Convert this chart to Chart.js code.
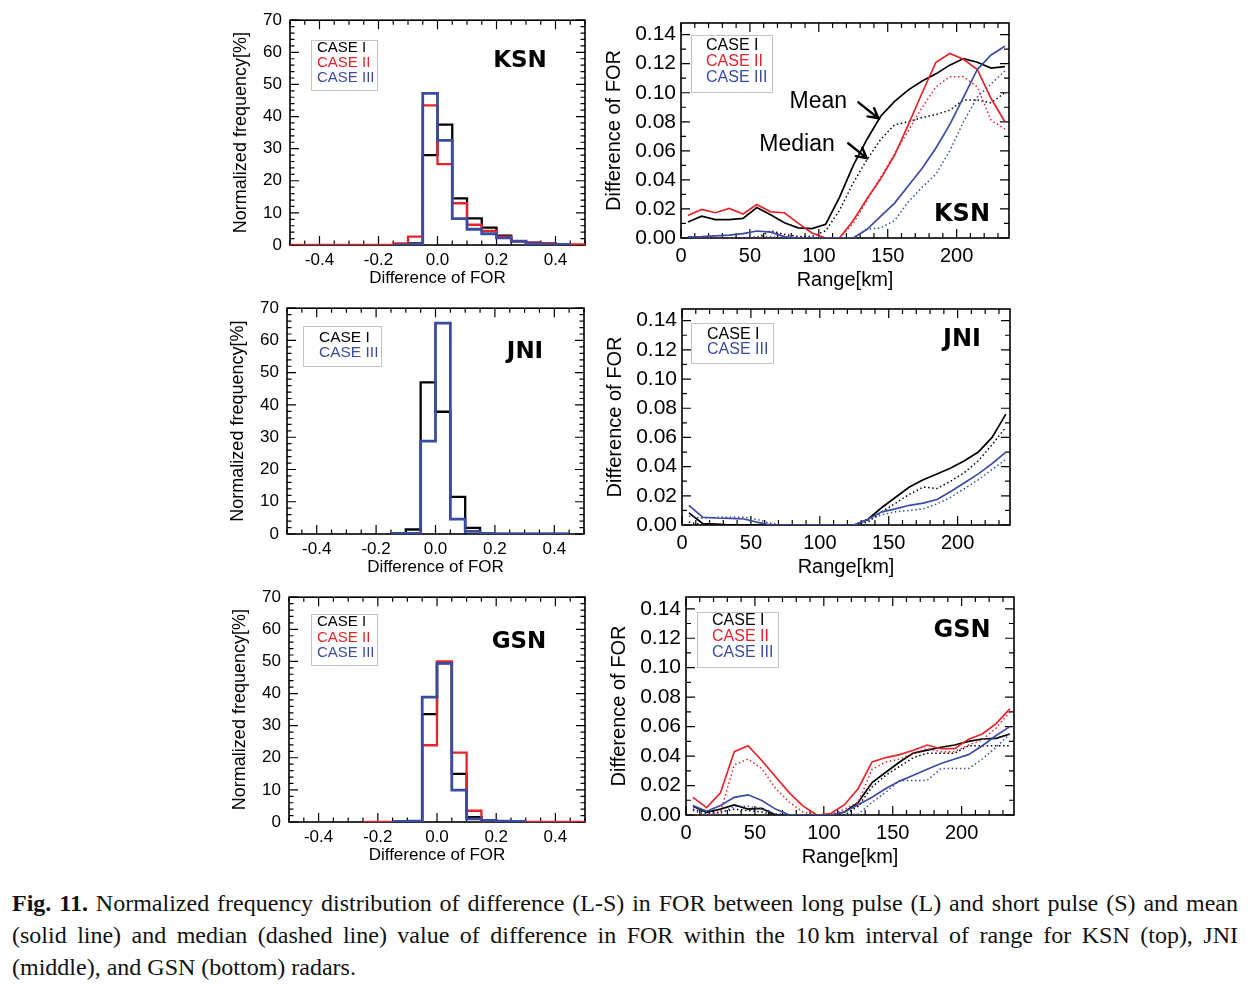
<!DOCTYPE html>
<html>
<head>
<meta charset="utf-8">
<script src="https://cdn.jsdelivr.net/npm/chart.js@4.4.1/dist/chart.umd.min.js"></script>
<style>
html,body{margin:0;padding:0;background:#fff;}
body{width:1258px;height:984px;position:relative;overflow:hidden;}
canvas{position:absolute;}
.cap{position:absolute;left:12px;width:1226px;font-family:"Liberation Serif","Times New Roman",serif;font-size:24px;line-height:32px;color:#111;}
.j{text-align:justify;text-align-last:justify;}
</style>
</head>
<body>
<canvas id="h1"></canvas>
<canvas id="l1"></canvas>
<canvas id="h2"></canvas>
<canvas id="l2"></canvas>
<canvas id="h3"></canvas>
<canvas id="l3"></canvas>
<div class="cap j" style="top:887px"><b>Fig. 11.</b> Normalized frequency distribution of difference (L-S) in FOR between long pulse (L) and short pulse (S) and mean</div>
<div class="cap j" style="top:919px">(solid line) and median (dashed line) value of difference in FOR within the 10&#8239;km interval of range for KSN (top), JNI</div>
<div class="cap" style="top:951px">(middle), and GSN (bottom) radars.</div>
<script>
// ---------------- DATA ----------------
// histogram bins (left edges), width 0.05
const histBinLeft = [-0.50,-0.45,-0.40,-0.35,-0.30,-0.25,-0.20,-0.15,-0.10,-0.05,0.00,0.05,0.10,0.15,0.20,0.25,0.30,0.35,0.40,0.45];
const HIST_BIN_WIDTH = 0.05;

const ksnHistCaseI   = [null,null,null,null,null,null,null,0,0.5,28,37.5,14.5,8.3,5.4,2.9,1.1,0.7,0.5,0.3,null];
const ksnHistCaseII  = [0,0,0,0,0,0,0,0.5,2.6,43.5,25.2,13,6.3,4.4,2.6,1.1,0.7,0.6,0.3,0.2];
const ksnHistCaseIII = [null,null,null,null,null,null,null,0,0.2,47.2,32.6,8.2,4.9,3.5,2.2,1.2,0.4,0.3,0.2,null];

const jniHistCaseI   = [null,null,null,null,null,null,null,0.2,1.4,47,37.9,11.5,1.9,0.3,0,0,0,0,0,null];
const jniHistCaseIII = [null,null,null,null,null,null,null,0,0.2,28.8,65.4,4.6,0.8,0.2,0,0,0,0,0,null];

const gsnHistCaseI   = [null,null,null,null,null,null,null,0,0.3,33.6,49.5,15,1.5,0.5,0.2,0,null,null,null,null];
const gsnHistCaseII  = [null,null,null,null,null,0,0,0,0.3,23.9,50,21.6,3.5,0.5,0.2,0,0,0,0,0];
const gsnHistCaseIII = [null,null,null,null,null,null,null,0.2,0.3,38.9,49.4,9.9,1,0.5,0.3,0.2,null,null,null,null];

// range bins (km)
const rangeKm = [5,15,25,35,45,55,65,75,85,95,105,115,125,135,145,155,165,175,185,195,205,215,225,235];

const ksnMeanCaseI     = [0.011,0.015,0.0127,0.0127,0.0135,0.021,0.016,0.0105,0.007,0.0065,0.0095,0.028,0.050,0.068,0.084,0.094,0.102,0.108,0.113,0.119,0.1235,0.121,0.117,0.118];
const ksnMedianCaseI   = [0,0,0,0,0,0,0.005,0.0025,0.001,0.001,0.005,0.019,0.038,0.054,0.068,0.078,0.080,0.083,0.085,0.088,0.095,0.095,0.093,0.100];
const ksnMeanCaseII    = [0.0155,0.0197,0.0174,0.0204,0.0165,0.023,0.018,0.0174,0.0102,0.0034,0,0,0.012,0.027,0.041,0.057,0.078,0.100,0.121,0.127,0.123,0.116,0.096,0.080];
const ksnMedianCaseII  = [0,0,0,0,0,0,0,0,0,0,0,0,0.010,0.026,0.042,0.058,0.074,0.090,0.104,0.111,0.111,0.104,0.081,0.075];
const ksnMeanCaseIII   = [0.0008,0.001,0.0015,0.002,0.003,0.0048,0.004,0.001,0,0,0,0,0,0.006,0.015,0.024,0.036,0.048,0.062,0.078,0.097,0.116,0.126,0.132];
const ksnMedianCaseIII = [0,0,0,0,0,0.001,0.001,0,0,0,0,0,0,0.006,0.007,0.012,0.025,0.035,0.044,0.060,0.080,0.097,0.106,0.115];

const jniMeanCaseI     = [0.0083,0.001,0.0007,0,0,0,0,0,0,0,0,0,0,0.004,0.012,0.019,0.026,0.031,0.035,0.039,0.044,0.050,0.060,0.076];
const jniMedianCaseI   = [0.002,0,0,0,0,0,0,0,0,0,0,0,0,0.002,0.009,0.015,0.021,0.026,0.025,0.030,0.036,0.044,0.055,0.067];
const jniMeanCaseIII   = [0.0134,0.0053,0.0048,0.0046,0.0041,0.0018,0,0,0,0,0,0,0,0.004,0.009,0.011,0.0135,0.015,0.0175,0.023,0.029,0.035,0.042,0.050];
const jniMedianCaseIII = [0.006,0.0046,0.0053,0.0053,0.0053,0.0037,0.001,0,0,0,0,0,0,0.003,0.007,0.009,0.010,0.011,0.0145,0.019,0.025,0.031,0.038,0.045];

const gsnMeanCaseI     = [0.006,0.0018,0.004,0.0068,0.004,0.0045,0,0,0,0,0,0.002,0.0086,0.022,0.029,0.036,0.042,0.044,0.046,0.0475,0.050,0.0516,0.052,0.055];
const gsnMedianCaseI   = [0.004,0.001,0.002,0.004,0.003,0.002,0,0,0,0,0,0,0.006,0.019,0.027,0.033,0.039,0.042,0.042,0.042,0.047,0.047,0.047,0.047];
const gsnMeanCaseII    = [0.012,0.005,0.015,0.043,0.047,0.037,0.026,0.015,0.006,0,0.001,0.007,0.018,0.036,0.039,0.041,0.044,0.0475,0.045,0.045,0.0515,0.055,0.062,0.072];
const gsnMedianCaseII  = [0,0,0.002,0.034,0.038,0.0315,0.018,0.0087,0.002,0,0,0.004,0.0086,0.031,0.036,0.038,0.042,0.045,0.043,0.043,0.0475,0.051,0.059,0.070];
const gsnMeanCaseIII   = [0.0064,0.0025,0.0064,0.012,0.0137,0.0098,0.004,0,0,0,0,0.002,0.007,0.012,0.018,0.023,0.027,0.031,0.035,0.038,0.041,0.047,0.054,0.060];
const gsnMedianCaseIII = [0.003,0,0.001,0.006,0.006,0.004,0.001,0,0,0,0,0,0.0007,0.0086,0.0155,0.0235,0.0235,0.0235,0.0315,0.0315,0.0315,0.038,0.046,0.055];

// tick labels
const histXTicks = [-0.4,-0.2,0.0,0.2,0.4];
const histYTicks = [0,10,20,30,40,50,60,70];
const rangeTicks = [0,50,100,150,200];
const forTicks   = [0.00,0.02,0.04,0.06,0.08,0.10,0.12,0.14];

const caseNames = { I: 'CASE I', II: 'CASE II', III: 'CASE III' };

// ---------------- STYLE ----------------
const FONT = '"Liberation Sans", Arial, Helvetica, sans-serif';
const COL = { I: '#000000', II: '#e3242b', III: '#3b4ca0' };

function steps(a, b, s) { const o = []; for (let k = 0; a + k * s <= b + 1e-9; k++) o.push(+(a + k * s).toFixed(5)); return o; }

function histOutline(vals) {
  const pts = [];
  vals.forEach((v, i) => {
    const l = histBinLeft[i];
    if (v === null) { pts.push({ x: l + HIST_BIN_WIDTH / 2, y: null }); return; }
    pts.push({ x: l, y: v }, { x: +(l + HIST_BIN_WIDTH).toFixed(3), y: v });
  });
  return pts;
}
function series(vals) { return vals.map((v, i) => ({ x: rangeKm[i], y: v })); }

function framePlugin(t) {
  return {
    id: 'frame',
    beforeDatasetsDraw(chart) {
      const { ctx, chartArea: a, scales: { x, y } } = chart;
      ctx.save();
      ctx.strokeStyle = '#000';
      ctx.lineWidth = 1.2;
      ctx.beginPath();
      const xt = (vals, len) => vals.forEach(v => { const p = x.getPixelForValue(v); ctx.moveTo(p, a.bottom); ctx.lineTo(p, a.bottom - len); ctx.moveTo(p, a.top); ctx.lineTo(p, a.top + len); });
      const yl = (vals, len) => vals.forEach(v => { const p = y.getPixelForValue(v); ctx.moveTo(a.left, p); ctx.lineTo(a.left + len, p); });
      const yr = (vals, len) => vals.forEach(v => { const p = y.getPixelForValue(v); ctx.moveTo(a.right, p); ctx.lineTo(a.right - len, p); });
      xt(t.xMinor, t.minorLen); xt(t.xMajor, t.majorLen);
      yl(t.yMinorL, t.minorLen); yl(t.yMajor, t.majorLen);
      yr(t.yMinorR, t.minorLen); yr(t.yMajor, t.majorLen);
      ctx.stroke();
      ctx.lineWidth = 1.6;
      ctx.strokeRect(a.left, a.top, a.right - a.left, a.bottom - a.top);
      ctx.restore();
    }
  };
}

function notesPlugin(n) {
  return {
    id: 'notes',
    afterDatasetsDraw(chart) {
      const { ctx, chartArea: a, scales: { x, y } } = chart;
      ctx.save();
      const L = n.legend;
      ctx.strokeStyle = '#c4c4c4'; ctx.lineWidth = 1;
      ctx.strokeRect(Math.round(a.left + L.x0) + 0.5, Math.round(a.top + L.y0) + 0.5, L.w, L.h);
      ctx.font = L.size + 'px ' + FONT; ctx.textBaseline = 'middle'; ctx.textAlign = 'left';
      L.items.forEach((k, i) => { ctx.fillStyle = COL[k]; ctx.fillText(caseNames[k], a.left + L.tx, a.top + L.ty[i]); });
      ctx.fillStyle = '#000';
      ctx.font = 'bold ' + n.station.size + 'px "DejaVu Sans", sans-serif';
      ctx.textAlign = 'center';
      ctx.fillText(n.station.text, a.left + n.station.cx, a.top + n.station.cy);
      (n.texts || []).forEach(t => {
        ctx.font = t.size + 'px ' + FONT; ctx.textAlign = 'center'; ctx.fillStyle = '#000';
        ctx.fillText(t.text, x.getPixelForValue(t.x), y.getPixelForValue(t.y));
      });
      (n.arrows || []).forEach(ar => {
        const x0 = x.getPixelForValue(ar.from[0]), y0 = y.getPixelForValue(ar.from[1]);
        const x1 = x.getPixelForValue(ar.to[0]), y1 = y.getPixelForValue(ar.to[1]);
        const ang = Math.atan2(y1 - y0, x1 - x0), hl = 11;
        ctx.strokeStyle = '#000'; ctx.lineWidth = 2.4; ctx.lineCap = 'round';
        ctx.beginPath(); ctx.moveTo(x0, y0); ctx.lineTo(x1, y1);
        ctx.moveTo(x1 - hl * Math.cos(ang - 0.5), y1 - hl * Math.sin(ang - 0.5)); ctx.lineTo(x1, y1);
        ctx.lineTo(x1 - hl * Math.cos(ang + 0.5), y1 - hl * Math.sin(ang + 0.5));
        ctx.stroke();
      });
      ctx.restore();
    }
  };
}

function place(canvas, left, top, w, h) {
  canvas.width = w; canvas.height = h;
  canvas.style.left = left + 'px'; canvas.style.top = top + 'px';
  canvas.style.width = w + 'px'; canvas.style.height = h + 'px';
}

function makeHist(id, plot, sets, notes) {
  const [pl, pt, pr, pb] = plot;
  const cl = pl - 66, ct = pt - 15, cw = pr + 12 - cl, ch = pb + 46 - ct;
  const cv = document.getElementById(id);
  place(cv, cl, ct, cw, ch);
  const datasets = sets.map(s => ({
    data: histOutline(s.vals), borderColor: COL[s.k], borderWidth: s.k === 'III' ? 2.8 : 2.3,
    pointRadius: 0, tension: 0, fill: false, order: s.order, spanGaps: false
  }));
  new Chart(cv, {
    type: 'line',
    data: { datasets },
    options: {
      responsive: false, animation: false, events: [], devicePixelRatio: 1,
      layout: { padding: { left: 0, top: 15, right: 12, bottom: 0 } },
      plugins: { legend: { display: false }, tooltip: { enabled: false } },
      scales: {
        x: {
          type: 'linear', min: -0.5, max: 0.5,
          afterBuildTicks: s => { s.ticks = histXTicks.map(v => ({ value: v })); },
          afterFit: s => { s.height = 46; },
          grid: { display: false, drawTicks: false }, border: { display: false },
          ticks: { color: '#000', padding: 4.8, maxRotation: 0, autoSkip: false, font: { family: FONT, size: 17 }, callback: v => v.toFixed(1) },
          title: { display: true, text: 'Difference of FOR', color: '#000', font: { family: FONT, size: 17 }, padding: { top: 0, bottom: 2.3 } }
        },
        y: {
          type: 'linear', min: 0, max: 70,
          afterBuildTicks: s => { s.ticks = histYTicks.map(v => ({ value: v })); },
          afterFit: s => { s.width = 66; },
          grid: { display: false, drawTicks: false }, border: { display: false },
          ticks: { color: '#000', padding: 8, font: { family: FONT, size: 17 }, callback: v => String(v) },
          title: { display: true, text: 'Normalized frequency[%]', color: '#000', font: { family: FONT, size: 18 }, padding: { top: 6.2, bottom: 0 } }
        }
      }
    },
    plugins: [
      framePlugin({ xMajor: histXTicks, xMinor: steps(-0.5, 0.5, 0.05), yMajor: histYTicks, yMinorL: steps(0, 70, 2), yMinorR: steps(0, 70, 2), majorLen: 9, minorLen: 4.5 }),
      notesPlugin(notes)
    ]
  });
}

function makeLine(id, plot, sets, notes) {
  const [pl, pt, pr, pb] = plot;
  const cl = pl - 88, ct = pt - 20, cw = pr + 14 - cl, ch = pb + 54 - ct;
  const cv = document.getElementById(id);
  place(cv, cl, ct, cw, ch);
  const datasets = [];
  sets.forEach(s => {
    datasets.push({ data: series(s.mean), borderColor: COL[s.k], borderWidth: 1.7, pointRadius: 0, tension: 0, fill: false, order: s.order });
    datasets.push({ data: series(s.median), borderColor: COL[s.k], borderWidth: 1.5, borderDash: [1.5, 2.6], pointRadius: 0, tension: 0, fill: false, order: s.order + 0.5 });
  });
  new Chart(cv, {
    type: 'line',
    data: { datasets },
    options: {
      responsive: false, animation: false, events: [], devicePixelRatio: 1,
      layout: { padding: { left: 0, top: 20, right: 14, bottom: 0 } },
      plugins: { legend: { display: false }, tooltip: { enabled: false } },
      scales: {
        x: {
          type: 'linear', min: 0, max: 238,
          afterBuildTicks: s => { s.ticks = rangeTicks.map(v => ({ value: v })); },
          afterFit: s => { s.height = 54; },
          grid: { display: false, drawTicks: false }, border: { display: false },
          ticks: { color: '#000', padding: 6.5, maxRotation: 0, autoSkip: false, font: { family: FONT, size: 20 }, callback: v => String(v) },
          title: { display: true, text: 'Range[km]', color: '#000', font: { family: FONT, size: 20 }, padding: { top: 0, bottom: 0 } }
        },
        y: {
          type: 'linear', min: 0, max: 0.148,
          afterBuildTicks: s => { s.ticks = forTicks.map(v => ({ value: v })); },
          afterFit: s => { s.width = 88; },
          grid: { display: false, drawTicks: false }, border: { display: false },
          ticks: { color: '#000', padding: 5, font: { family: FONT, size: 21 }, callback: v => v.toFixed(2) },
          title: { display: true, text: 'Difference of FOR', color: '#000', font: { family: FONT, size: 20 }, padding: { top: 9, bottom: 0 } }
        }
      }
    },
    plugins: [
      framePlugin({ xMajor: rangeTicks, xMinor: steps(0, 230, 10), yMajor: forTicks, yMinorL: steps(0, 0.14, 0.01), yMinorR: steps(0, 0.14, 0.01), majorLen: 9, minorLen: 5 }),
      notesPlugin(notes)
    ]
  });
}

// ---------------- PANELS ----------------
makeHist('h1', [290, 17, 585, 245], [
  { k: 'I', vals: ksnHistCaseI, order: 3 },
  { k: 'II', vals: ksnHistCaseII, order: 2 },
  { k: 'III', vals: ksnHistCaseIII, order: 1 }
], {
  legend: { x0: 21, y0: 20, w: 66, h: 50, tx: 27, ty: [28, 43, 58], size: 15, items: ['I', 'II', 'III'] },
  station: { text: 'KSN', cx: 230, cy: 40.5, size: 23 }
});

makeHist('h2', [287, 305, 584, 534], [
  { k: 'I', vals: jniHistCaseI, order: 3 },
  { k: 'III', vals: jniHistCaseIII, order: 1 }
], {
  legend: { x0: 16, y0: 18, w: 78, h: 40, tx: 32, ty: [29.5, 44.5], size: 15.5, items: ['I', 'III'] },
  station: { text: 'JNI', cx: 238, cy: 44, size: 23 }
});

makeHist('h3', [289, 594, 585, 822], [
  { k: 'I', vals: gsnHistCaseI, order: 3 },
  { k: 'II', vals: gsnHistCaseII, order: 2 },
  { k: 'III', vals: gsnHistCaseIII, order: 1 }
], {
  legend: { x0: 22, y0: 17, w: 66, h: 51, tx: 28, ty: [25, 41, 56], size: 15, items: ['I', 'II', 'III'] },
  station: { text: 'GSN', cx: 230, cy: 45, size: 23 }
});

makeLine('l1', [681, 23, 1009, 238], [
  { k: 'I', mean: ksnMeanCaseI, median: ksnMedianCaseI, order: 3 },
  { k: 'II', mean: ksnMeanCaseII, median: ksnMedianCaseII, order: 2 },
  { k: 'III', mean: ksnMeanCaseIII, median: ksnMedianCaseIII, order: 1 }
], {
  legend: { x0: 10, y0: 12, w: 81, h: 57, tx: 25, ty: [23, 39, 54.5], size: 16, items: ['I', 'II', 'III'] },
  station: { text: 'KSN', cx: 281, cy: 192, size: 24 },
  texts: [{ text: 'Mean', x: 99.6, y: 0.094, size: 23 }, { text: 'Median', x: 84.2, y: 0.064, size: 23 }],
  arrows: [{ from: [128.7, 0.0934], to: [143.2, 0.0824] }, { from: [121.3, 0.0652], to: [134.7, 0.055] }]
});

makeLine('l2', [682, 309, 1010, 525], [
  { k: 'I', mean: jniMeanCaseI, median: jniMedianCaseI, order: 3 },
  { k: 'III', mean: jniMeanCaseIII, median: jniMedianCaseIII, order: 1 }
], {
  legend: { x0: 9, y0: 14, w: 82, h: 40, tx: 25, ty: [25.5, 40.5], size: 16, items: ['I', 'III'] },
  station: { text: 'JNI', cx: 280, cy: 31, size: 24 }
});

makeLine('l3', [686, 597, 1014, 815], [
  { k: 'I', mean: gsnMeanCaseI, median: gsnMedianCaseI, order: 3 },
  { k: 'II', mean: gsnMeanCaseII, median: gsnMedianCaseII, order: 2 },
  { k: 'III', mean: gsnMeanCaseIII, median: gsnMedianCaseIII, order: 1 }
], {
  legend: { x0: 11, y0: 15, w: 81, h: 55, tx: 26, ty: [24, 40, 56], size: 16, items: ['I', 'II', 'III'] },
  station: { text: 'GSN', cx: 276, cy: 34, size: 24 }
});
</script>
</body>
</html>
